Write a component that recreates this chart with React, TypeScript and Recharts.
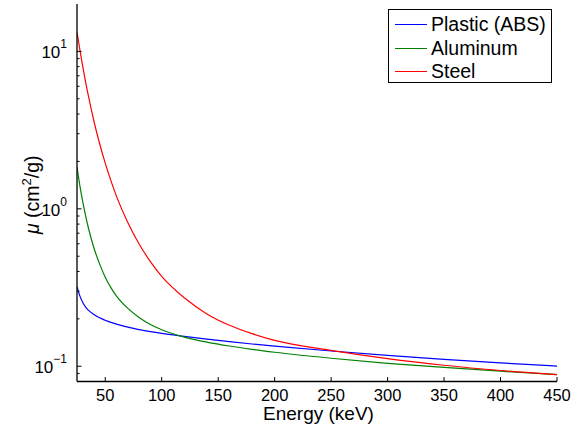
import React from "react";
import { LineChart, Line, XAxis, YAxis, Legend } from "recharts";

const ENERGY = [25, 27.5, 30, 32.5, 35, 40, 45, 50, 55, 60, 70, 80, 90, 100, 120, 140, 160, 180, 200, 250, 300, 350, 400, 450];
const PLASTIC = [0.32, 0.28, 0.255, 0.238, 0.227, 0.213, 0.203, 0.196, 0.19, 0.185, 0.177, 0.171, 0.166, 0.1618, 0.155, 0.1488, 0.1433, 0.1385, 0.1342, 0.125, 0.1172, 0.1106, 0.105, 0.1003];
const ALUMINUM = [1.84, 1.41, 1.118, 0.911, 0.761, 0.564, 0.447, 0.368, 0.316, 0.279, 0.233, 0.204, 0.184, 0.1704, 0.153, 0.1424, 0.1344, 0.128, 0.1227, 0.1124, 0.1044, 0.0983, 0.093, 0.0885];
const STEEL = [13.2, 10.3, 8.1, 6.45, 5.25, 3.6, 2.6, 1.95, 1.51, 1.2, 0.82, 0.598, 0.462, 0.372, 0.272, 0.215, 0.182, 0.161, 0.146, 0.1262, 0.1118, 0.1015, 0.094, 0.0885];

const SERIES_NAMES = ["Plastic (ABS)", "Aluminum", "Steel"];
const SERIES_COLORS = ["#0000ff", "#008000", "#ff0000"];

const X_TICKS = [50, 100, 150, 200, 250, 300, 350, 400, 450];
const Y_TICKS = [0.09, 0.1, 0.2, 0.3, 0.4, 0.5, 0.6, 0.7, 0.8, 0.9, 1, 2, 3, 4, 5, 6, 7, 8, 9, 10];
const Y_MAJOR = [0.1, 1, 10];
const Y_MAJOR_EXP = ["\u22121", "0", "1"];

const data = ENERGY.map((e, i) => ({ e, plastic: PLASTIC[i], aluminum: ALUMINUM[i], steel: STEEL[i] }));

const FONT = "'Liberation Sans', Arial, Helvetica, sans-serif";
const MAJOR_LEN = 4.5;
const MINOR_LEN = 2.5;

const majorIndex = (v: number) => Y_MAJOR.findIndex((m) => Math.abs(m - v) < 1e-9);

const LeftTick = (props: any) => {
  const { x, y, payload } = props;
  const idx = majorIndex(payload.value);
  const len = idx >= 0 ? MAJOR_LEN : MINOR_LEN;
  return (
    <g>
      <line x1={x} x2={x + len} y1={y} y2={y} stroke="#000" strokeWidth={1} />
      {idx >= 0 && (
        <text x={x - 10} y={y + 7} textAnchor="end" fontFamily={FONT} fontSize={17} fill="#000">
          <tspan>10</tspan>
          <tspan dy={-10} fontSize={12}>{Y_MAJOR_EXP[idx]}</tspan>
        </text>
      )}
    </g>
  );
};

const RightTick = (props: any) => {
  const { x, y, payload } = props;
  const idx = majorIndex(payload.value);
  const len = idx >= 0 ? MAJOR_LEN : MINOR_LEN;
  return <line x1={x} x2={x - len} y1={y} y2={y} stroke="#000" strokeWidth={1} />;
};

const BottomTick = (props: any) => {
  const { x, y, payload } = props;
  return (
    <g>
      <line x1={x} x2={x} y1={y} y2={y - MAJOR_LEN} stroke="#000" strokeWidth={1} />
      <text x={x} y={y + 19} textAnchor="middle" fontFamily={FONT} fontSize={16.5} fill="#000">
        {payload.value}
      </text>
    </g>
  );
};

const TopTick = (props: any) => {
  const { x, y } = props;
  return <line x1={x} x2={x} y1={y} y2={y + MAJOR_LEN} stroke="#000" strokeWidth={1} />;
};

const XLabel = (props: any) => {
  const vb = props.viewBox || { x: 77, y: 381.5, width: 480, height: 50 };
  return (
    <text x={vb.x + vb.width / 2 + 1.5} y={vb.y + 38.5} textAnchor="middle" fontFamily={FONT} fontSize={19} fill="#000">
      Energy (keV)
    </text>
  );
};

const YLabel = (props: any) => {
  const vb = props.viewBox || { x: 0, y: 4, width: 77, height: 377.5 };
  const cx = 38.5;
  const cy = vb.y + vb.height / 2 + 2;
  return (
    <text x={cx} y={cy} transform={`rotate(-90, ${cx}, ${cy})`} textAnchor="middle" fontFamily={FONT} fontSize={19.5} fill="#000">
      <tspan fontStyle="italic">{"\u03bc"}</tspan>
      <tspan> (cm</tspan>
      <tspan dy={-8} fontSize={13}>2</tspan>
      <tspan dy={8}>/g)</tspan>
    </text>
  );
};

const LegendBox = () => (
  <div
    style={{
      width: 164,
      height: 74,
      boxSizing: "border-box",
      border: "1.3px solid #000",
      background: "#fff",
      position: "relative",
      fontFamily: FONT,
      fontSize: 19.5,
      color: "#000",
    }}
  >
    {SERIES_NAMES.map((name, i) => (
      <div key={name} style={{ position: "absolute", left: 0, top: 3 + i * 23.7, height: 23, display: "flex", alignItems: "center" }}>
        <div style={{ marginLeft: 6, width: 32, height: 1.2, background: SERIES_COLORS[i] }} />
        <span style={{ marginLeft: 4, lineHeight: "23px", whiteSpace: "nowrap" }}>{name}</span>
      </div>
    ))}
  </div>
);

export default function App() {
  return (
    <div style={{ position: "absolute", left: 0, top: 0, width: 572, height: 432, background: "#fff" }}>
      <LineChart width={572} height={432} data={data} margin={{ top: 4, right: 15, bottom: 0, left: 0 }}>
        <XAxis
          xAxisId="b"
          dataKey="e"
          type="number"
          domain={[25, 450]}
          allowDataOverflow
          ticks={X_TICKS}
          interval={0}
          height={50.5}
          tickSize={0}
          tickMargin={0}
          tickLine={false}
          tick={<BottomTick />}
          axisLine={{ stroke: "#000", strokeWidth: 1.3 }}
          label={{ content: <XLabel /> }}
        />
        <XAxis
          xAxisId="t"
          orientation="top"
          dataKey="e"
          type="number"
          domain={[25, 450]}
          allowDataOverflow
          ticks={X_TICKS}
          interval={0}
          height={0}
          tickSize={0}
          tickMargin={0}
          tickLine={false}
          tick={<TopTick />}
          axisLine={{ stroke: "#000", strokeWidth: 1.3 }}
        />
        <YAxis
          yAxisId="l"
          type="number"
          scale="log"
          domain={[0.08, 20]}
          allowDataOverflow
          ticks={Y_TICKS}
          interval={0}
          width={77}
          tickSize={0}
          tickMargin={0}
          tickLine={false}
          tick={<LeftTick />}
          axisLine={{ stroke: "#000", strokeWidth: 1.3 }}
          label={{ content: <YLabel /> }}
        />
        <YAxis
          yAxisId="r"
          orientation="right"
          type="number"
          scale="log"
          domain={[0.08, 20]}
          allowDataOverflow
          ticks={Y_TICKS}
          interval={0}
          width={0}
          tickSize={0}
          tickMargin={0}
          tickLine={false}
          tick={<RightTick />}
          axisLine={{ stroke: "#000", strokeWidth: 1.3 }}
        />
        <Line xAxisId="b" yAxisId="l" type="monotone" dataKey="plastic" name={SERIES_NAMES[0]} stroke={SERIES_COLORS[0]} strokeWidth={1.2} dot={false} isAnimationActive={false} />
        <Line xAxisId="b" yAxisId="l" type="monotone" dataKey="aluminum" name={SERIES_NAMES[1]} stroke={SERIES_COLORS[1]} strokeWidth={1.2} dot={false} isAnimationActive={false} />
        <Line xAxisId="b" yAxisId="l" type="monotone" dataKey="steel" name={SERIES_NAMES[2]} stroke={SERIES_COLORS[2]} strokeWidth={1.2} dot={false} isAnimationActive={false} />
        <Legend
          layout="vertical"
          align="center"
          verticalAlign="middle"
          content={<LegendBox />}
          wrapperStyle={{ position: "absolute", left: 388, top: 9, width: 164, height: 74, margin: 0 }}
        />
      </LineChart>
    </div>
  );
}
